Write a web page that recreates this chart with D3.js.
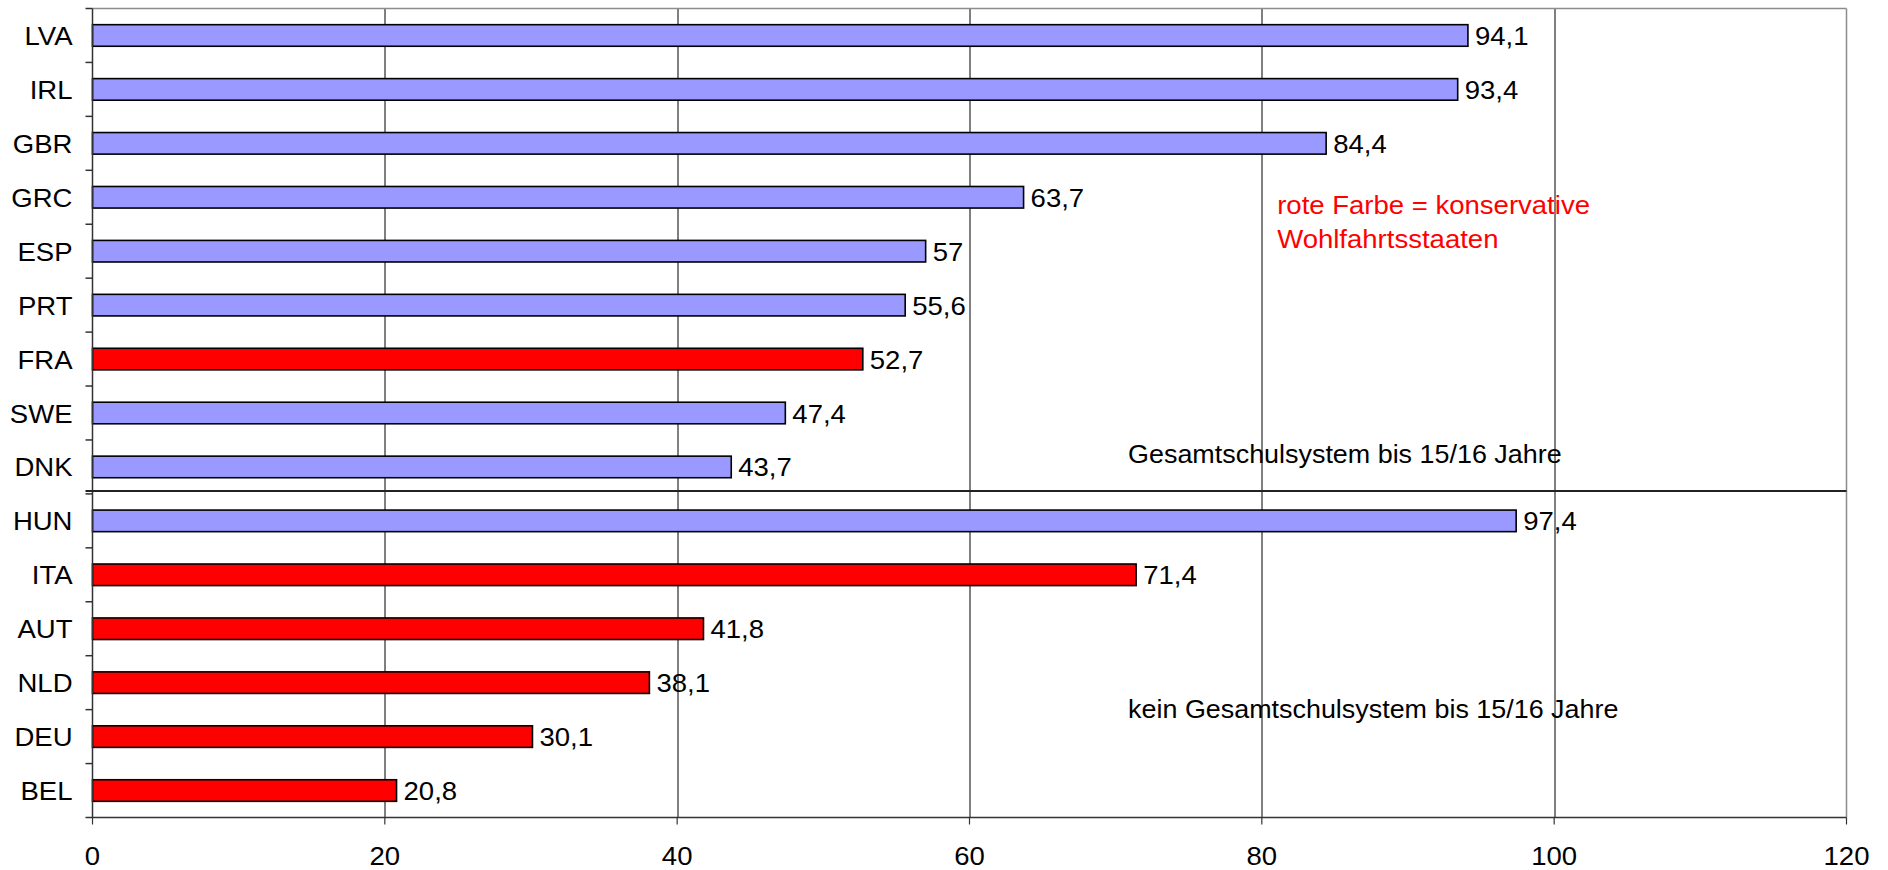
<!DOCTYPE html>
<html>
<head>
<meta charset="utf-8">
<script src="https://cdn.jsdelivr.net/npm/d3@7"></script>
<style>
  html, body { margin: 0; padding: 0; background: #fff; }
  svg { display: block; font-family: "Liberation Sans", Arial, sans-serif; }
</style>
</head>
<body>
<svg id="chart" width="1888" height="870"></svg>
<script>
// Countries, top to bottom
const countries = ["LVA", "IRL", "GBR", "GRC", "ESP", "PRT", "FRA", "SWE", "DNK",
                   "HUN", "ITA", "AUT", "NLD", "DEU", "BEL"];
const values = [94.1, 93.4, 84.4, 63.7, 57, 55.6, 52.7, 47.4, 43.7,
                97.4, 71.4, 41.8, 38.1, 30.1, 20.8];
// true = conservative welfare state (drawn red)
const conservative = [false, false, false, false, false, false, true, false, false,
                      false, true, true, true, true, true];
const xTicks = [0, 20, 40, 60, 80, 100, 120];
const groupBreakAfter = "DNK";

const width = 1888, height = 870;
const margin = { top: 8.5, right: 41.5, bottom: 52.5, left: 92.5 };
const innerW = width - margin.left - margin.right;
const innerH = height - margin.top - margin.bottom;

const svg = d3.select("#chart");
const g = svg.append("g").attr("transform", `translate(${margin.left},${margin.top})`);

const x = d3.scaleLinear().domain([0, 120]).range([0, innerW]);
const y = d3.scaleBand().domain(countries).range([0, innerH])
  .paddingInner(0.6).paddingOuter(0.3);
const step = y.step();

const FS = 25.5;
const SX = 1.08;   // slightly wide glyphs
const fmt = v => String(v).replace(".", ",");
const place = (px, py, sx = SX) => `translate(${px},${py}) scale(${sx},1)`;

// vertical gridlines
g.append("g").selectAll("line")
  .data(xTicks.filter(t => t > 0 && t < 120))
  .join("line")
  .attr("x1", d => Math.round(x(d)) + 0.5).attr("x2", d => Math.round(x(d)) + 0.5)
  .attr("y1", 0).attr("y2", innerH)
  .attr("stroke", "#000").attr("stroke-width", 1);

// plot frame (top and right)
g.append("line").attr("x1", 0).attr("x2", innerW).attr("y1", 0).attr("y2", 0)
  .attr("stroke", "#8c8c8c").attr("stroke-width", 1.5);
g.append("line").attr("x1", innerW).attr("x2", innerW).attr("y1", 0).attr("y2", innerH)
  .attr("stroke", "#8c8c8c").attr("stroke-width", 1.5);

// bars
g.append("g").selectAll("rect")
  .data(countries)
  .join("rect")
  .attr("x", x(0))
  .attr("y", d => y(d))
  .attr("width", (d, i) => x(values[i]) - x(0))
  .attr("height", y.bandwidth())
  .attr("fill", (d, i) => conservative[i] ? "#ff0000" : "#9999ff")
  .attr("stroke", "#000").attr("stroke-width", 1.6);

// value labels
g.append("g").selectAll("text")
  .data(countries)
  .join("text")
  .attr("transform", (d, i) => place(x(values[i]) + 7, y(d) + y.bandwidth() / 2 + 9.5))
  .attr("font-size", FS).attr("fill", "#000")
  .text((d, i) => fmt(values[i]));

// category axis: line, ticks between categories, labels
const yAxis = g.append("g");
yAxis.append("line").attr("x1", 0).attr("x2", 0).attr("y1", 0).attr("y2", innerH)
  .attr("stroke", "#333").attr("stroke-width", 1.5);
yAxis.selectAll("line.tick")
  .data(d3.range(countries.length + 1))
  .join("line").attr("class", "tick")
  .attr("x1", -7).attr("x2", 0)
  .attr("y1", i => i * step).attr("y2", i => i * step)
  .attr("stroke", "#333").attr("stroke-width", 1.5);
yAxis.selectAll("text")
  .data(countries)
  .join("text")
  .attr("transform", d => place(-20, y(d) + y.bandwidth() / 2 + 9.5))
  .attr("text-anchor", "end")
  .attr("font-size", FS).attr("fill", "#000")
  .text(d => d);

// value axis
const xAxis = g.append("g").attr("transform", `translate(0,${innerH})`);
xAxis.append("line").attr("x1", 0).attr("x2", innerW).attr("y1", 0).attr("y2", 0)
  .attr("stroke", "#333").attr("stroke-width", 1.5);
xAxis.selectAll("line.tick")
  .data(xTicks).join("line").attr("class", "tick")
  .attr("x1", d => x(d)).attr("x2", d => x(d))
  .attr("y1", 0).attr("y2", 7)
  .attr("stroke", "#333").attr("stroke-width", 1.2);
xAxis.selectAll("text")
  .data(xTicks).join("text")
  .attr("transform", d => place(x(d), 47.5))
  .attr("text-anchor", "middle")
  .attr("font-size", FS).attr("fill", "#000")
  .text(d => d);

// separator between school-system groups
const breakIdx = countries.indexOf(groupBreakAfter) + 1;
const sepY = breakIdx * step - 3;
g.append("line")
  .attr("x1", -7).attr("x2", innerW)
  .attr("y1", sepY).attr("y2", sepY)
  .attr("stroke", "#222").attr("stroke-width", 2);

// annotations
const note = g.append("g").attr("font-size", FS);
note.append("text").attr("transform", place(x(81.05), 205)).attr("fill", "#ff0000")
  .text("rote Farbe = konservative");
note.append("text").attr("transform", place(x(81.05), 239.5)).attr("fill", "#ff0000")
  .text("Wohlfahrtsstaaten");
note.append("text").attr("transform", place(x(70.85), sepY - 28, 1.055)).attr("fill", "#000")
  .text("Gesamtschulsystem bis 15/16 Jahre");
note.append("text").attr("transform", place(x(70.85), 709, 1.055)).attr("fill", "#000")
  .text("kein Gesamtschulsystem bis 15/16 Jahre");
</script>
</body>
</html>
